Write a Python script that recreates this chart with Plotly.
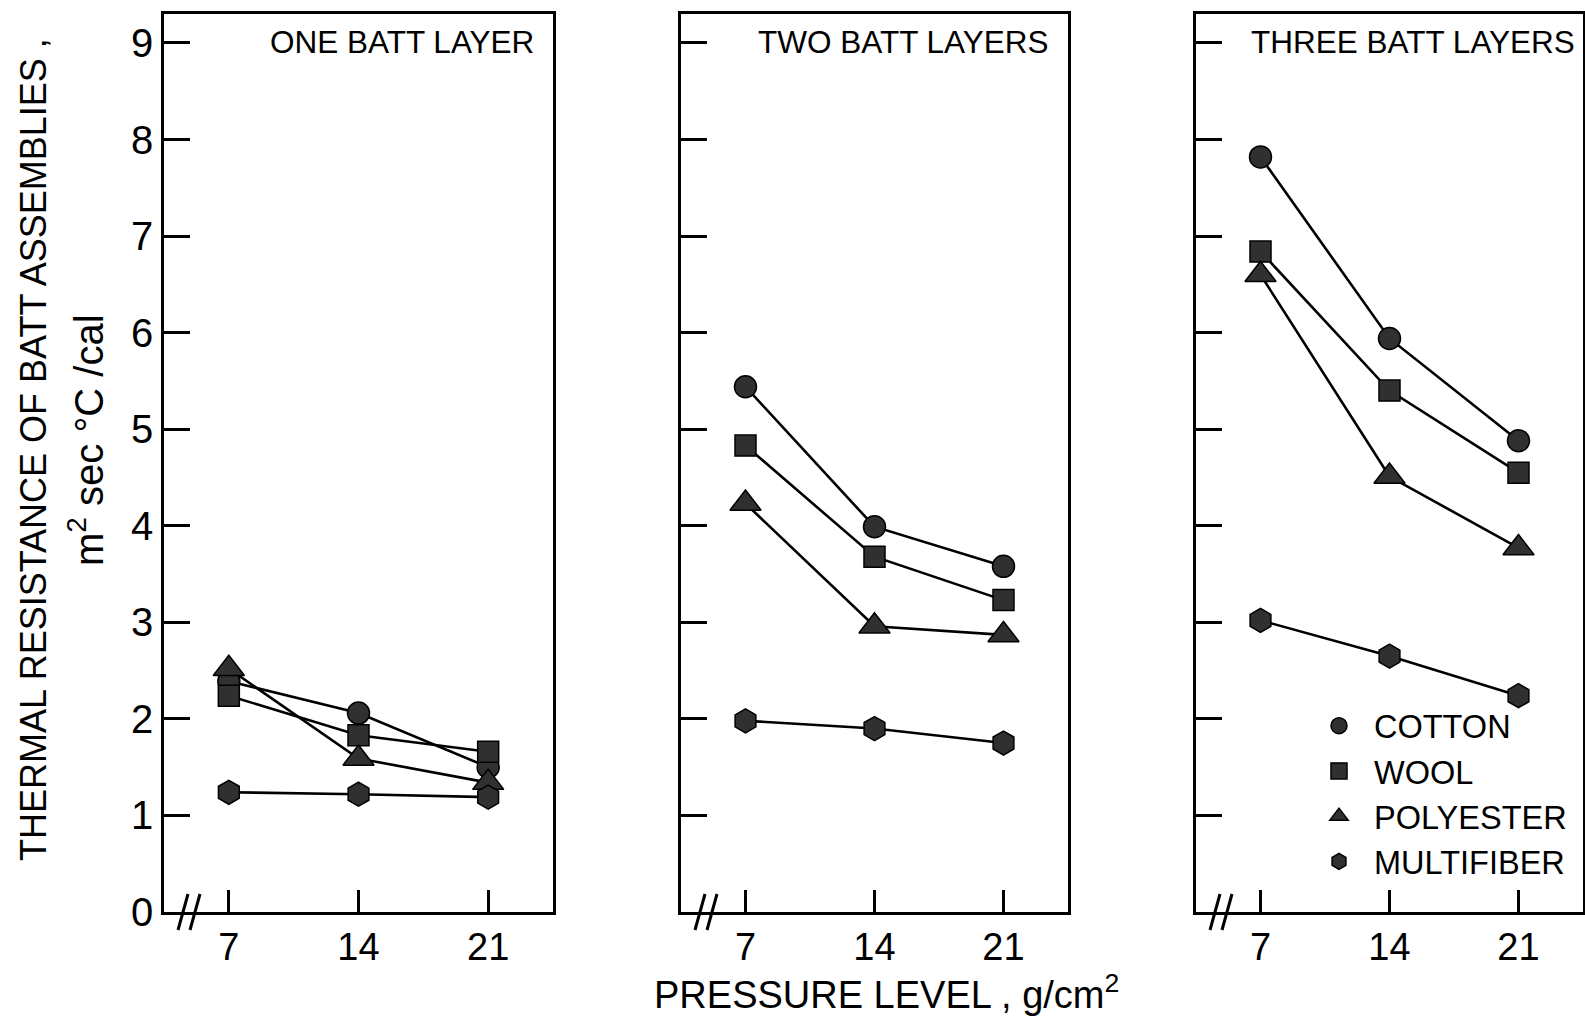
import plotly.graph_objects as go

# Pressure levels (g/cm^2) and panel headings
pressure = [7, 14, 21]
panel_titles = ["ONE BATT LAYER", "TWO BATT LAYERS", "THREE BATT LAYERS"]
fibers = ["COTTON", "WOOL", "POLYESTER", "MULTIFIBER"]
y_ticks = [0, 1, 2, 3, 4, 5, 6, 7, 8, 9]

# Thermal resistance (m^2 sec °C/cal); one row per panel (1, 2, 3 batt layers)
cotton = [[2.39, 2.06, 1.50], [5.44, 3.99, 3.58], [7.82, 5.94, 4.88]]
wool = [[2.24, 1.83, 1.66], [4.83, 3.68, 3.23], [6.84, 5.40, 4.55]]
polyester = [[2.52, 1.59, 1.34], [4.23, 2.96, 2.87], [6.60, 4.51, 3.77]]
multifiber = [[1.24, 1.22, 1.19], [1.98, 1.90, 1.75], [3.02, 2.65, 2.24]]

series = [cotton, wool, polyester, multifiber]
symbols = ["circle", "square", "triangle-up", "hexagon"]
sizes = [22, 21, 27, 24]

FILL = "#303030"
INK = "black"
FONT = "Liberation Sans"
W, H = 1585, 1016

# panel boxes in pixels (left, right) and shared vertical extent
panel_px = [(164, 553), (681, 1068), (1196, 1583)]
top_px, bottom_px = 14, 912

fig = go.Figure()

for p in range(3):
    ax = "" if p == 0 else str(p + 1)
    for name, data, sym, sz in zip(fibers, series, symbols, sizes):
        fig.add_trace(go.Scatter(
            x=pressure, y=data[p], mode="lines+markers",
            line=dict(color=INK, width=2.6),
            marker=dict(symbol=sym, size=sz, color=FILL,
                        line=dict(color=INK, width=1.5)),
            xaxis="x" + ax, yaxis="y" + ax,
            showlegend=False, name=name,
        ))

# legend entries (markers only)
for name, sym in zip(fibers, symbols):
    fig.add_trace(go.Scatter(
        x=[None], y=[None], mode="markers", name=name,
        marker=dict(symbol=sym, size=20, color=FILL,
                    line=dict(color=INK, width=1.5)),
        xaxis="x3", yaxis="y3", showlegend=True,
    ))

layout = dict(
    width=W, height=H,
    margin=dict(l=0, r=0, t=0, b=0),
    paper_bgcolor="white", plot_bgcolor="white",
    font=dict(family=FONT, color=INK),
    legend=dict(
        x=1304 / W, y=1 - 698 / H, xanchor="left", yanchor="top",
        font=dict(family=FONT, size=32.5, color=INK),
        bgcolor="rgba(0,0,0,0)", itemwidth=60, borderwidth=0,
    ),
)

for p, (l, r) in enumerate(panel_px):
    ax = "" if p == 0 else str(p + 1)
    layout["xaxis" + ax] = dict(
        domain=[l / W, r / W], range=[3.5, 24.5],
        tickvals=pressure, ticktext=[str(v) for v in pressure],
        ticks="inside", ticklen=22, tickwidth=2.5, tickcolor=INK,
        showline=True, linecolor=INK, linewidth=2.5, mirror=True,
        showgrid=False, zeroline=False, automargin=False,
        tickfont=dict(family=FONT, size=38, color=INK),
        ticklabelstandoff=0,
        anchor="y" + ax,
    )
    layout["yaxis" + ax] = dict(
        domain=[1 - bottom_px / H, 1 - top_px / H], range=[0, 9.3],
        tickvals=y_ticks if p == 0 else y_ticks[1:],
        ticks="inside", ticklen=26, tickwidth=2.5, tickcolor=INK,
        showline=True, linecolor=INK, linewidth=2.5, mirror=True,
        showgrid=False, zeroline=False, automargin=False,
        showticklabels=(p == 0),
        tickfont=dict(family=FONT, size=40, color=INK),
        ticklabelstandoff=0,
        anchor="x" + ax,
    )

fig.update_layout(**layout)

annotations = []
title_centers = [402, 904, 1413]
for t, cx in zip(panel_titles, title_centers):
    annotations.append(dict(
        text=t, x=cx / W, y=1 - 42 / H, xref="paper", yref="paper",
        xanchor="center", yanchor="middle", showarrow=False,
        font=dict(family=FONT, size=31.5, color=INK),
    ))

annotations.append(dict(
    text="THERMAL RESISTANCE OF BATT ASSEMBLIES ,",
    x=33 / W, y=1 - 450 / H, xref="paper", yref="paper",
    xanchor="center", yanchor="middle", textangle=-90, showarrow=False,
    font=dict(family=FONT, size=36, color=INK),
))
annotations.append(dict(
    text="m<sup>2</sup> sec °C /cal",
    x=86 / W, y=1 - 440 / H, xref="paper", yref="paper",
    xanchor="center", yanchor="middle", textangle=-90, showarrow=False,
    font=dict(family=FONT, size=40, color=INK),
))
annotations.append(dict(
    text="PRESSURE LEVEL , g/cm<sup>2</sup>",
    x=886 / W, y=1 - 992 / H, xref="paper", yref="paper",
    xanchor="center", yanchor="middle", showarrow=False,
    font=dict(family=FONT, size=38, color=INK),
))
fig.update_layout(annotations=annotations)

# axis-break slashes at the lower left of each panel
shapes = []
for p, (l, r) in enumerate(panel_px):
    ax = "" if p == 0 else str(p + 1)
    width = r - l
    hgt = bottom_px - top_px
    for off in (19, 31):
        cx = off / width
        shapes.append(dict(
            type="line", xref="x" + ax + " domain", yref="y" + ax + " domain",
            x0=cx - 5 / width, y0=-18 / hgt, x1=cx + 5 / width, y1=18 / hgt,
            line=dict(color=INK, width=3),
        ))
fig.update_layout(shapes=shapes)

fig.write_html("out.html")
